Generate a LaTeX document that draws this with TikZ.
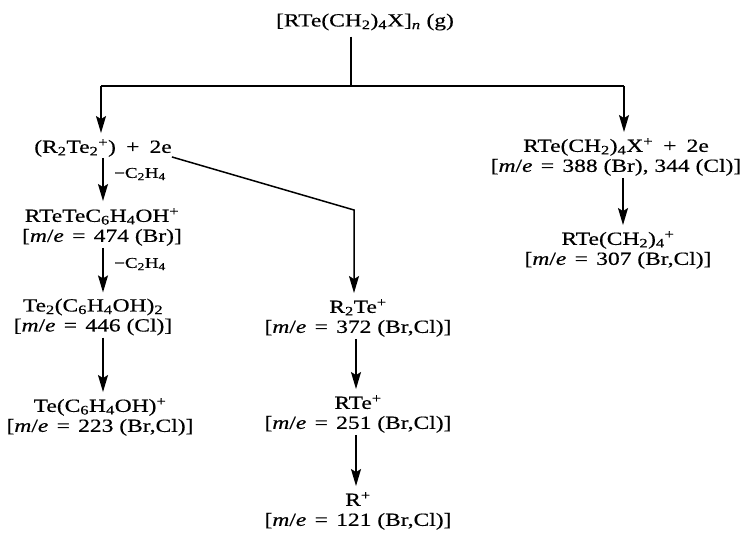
\documentclass[tikz,border=0pt]{standalone}
\usepackage{fontspec}
\setmainfont{Liberation Serif}[FakeStretch=1.27,FakeBold=0.5]
\usetikzlibrary{arrows.meta}
\newcommand{\sbs}[1]{\textsubscript{#1}}
\newcommand{\sps}[1]{\textsuperscript{#1}}
\newcommand{\me}{[\textit{m}/\textit{e}\hskip0.45em=\hskip0.45em}
\newcommand{\pls}{\hskip0.55em+\hskip0.55em}
\begin{document}
\begin{tikzpicture}[x=1pt,y=-1pt,
  sp/.style={font=\fontsize{18.5}{20}\selectfont, align=center, inner sep=0pt},
  lbl/.style={font=\fontsize{15}{17}\selectfont, inner sep=0pt, anchor=west},
  conn/.style={line width=1.5pt},
  arr/.style={conn, -{Stealth[length=17pt,width=10pt,inset=3pt]}}]
\useasboundingbox (0,0) rectangle (743,533);
\node[sp] (T) at (365,22) {[RTe(CH\sbs{2})\sbs{4}X]\sbs{\textit{n}} (g)};
\node[sp] (A) at (103,148) {(R\sbs{2}Te\sbs{2}\sps{+})\pls 2e};
\node[sp] (B) at (102,227) {RTeTeC\sbs{6}H\sbs{4}OH\sps{+}\\\me 474 (Br)]};
\node[sp] (C) at (93,317) {Te\sbs{2}(C\sbs{6}H\sbs{4}OH)\sbs{2}\\\me 446 (Cl)]};
\node[sp] (D) at (100,417) {Te(C\sbs{6}H\sbs{4}OH)\sps{+}\\\me 223 (Br,Cl)]};
\node[sp] (E) at (358,318) {R\sbs{2}Te\sps{+}\\\me 372 (Br,Cl)]};
\node[sp] (F) at (358,414) {RTe\sps{+}\\\me 251 (Br,Cl)]};
\node[sp] (G) at (358,511) {R\sps{+}\\\me 121 (Br,Cl)]};
\node[sp] (H) at (616,157) {RTe(CH\sbs{2})\sbs{4}X\sps{+}\pls 2e\\\me 388 (Br), 344 (Cl)]};
\node[sp] (I) at (618,250) {RTe(CH\sbs{2})\sbs{4}\sps{+}\\\me 307 (Br,Cl)]};
\node[lbl] (l1) at (114,174) {−C\sbs{2}H\sbs{4}};
\node[lbl] (l2) at (114,264) {−C\sbs{2}H\sbs{4}};
\coordinate (J) at (351,86);
\coordinate (L) at (101,86);
\coordinate (R) at (624,86);
\coordinate (K) at (354,210);
\coordinate (lx) at (103,0);
\coordinate (mx) at (356,0);
\coordinate (rx) at (623,0);
\draw[conn, shorten <=6pt] (T.south -| J) -- (J);
\draw[conn] (L) -- (R);
\draw[arr, shorten >=6pt] (L) -- (L |- A.north);
\draw[arr, shorten >=6pt] (R) -- (R |- H.north);
\draw[arr, shorten <=1pt, shorten >=7pt] (lx |- A.south) -- (lx |- B.north);
\draw[arr, shorten <=2pt, shorten >=6pt] (lx |- B.south) -- (lx |- C.north);
\draw[arr, shorten <=2pt, shorten >=6pt] (lx |- C.south) -- (lx |- D.north);
\draw[arr, shorten >=6pt] (A.south east) -- (K) -- (K |- E.north);
\draw[arr, shorten <=2pt, shorten >=6pt] (mx |- E.south) -- (mx |- F.north);
\draw[arr, shorten <=2pt, shorten >=6pt] (mx |- F.south) -- (mx |- G.north);
\draw[arr, shorten <=2pt, shorten >=6pt] (rx |- H.south) -- (rx |- I.north);
\end{tikzpicture}
\end{document}
